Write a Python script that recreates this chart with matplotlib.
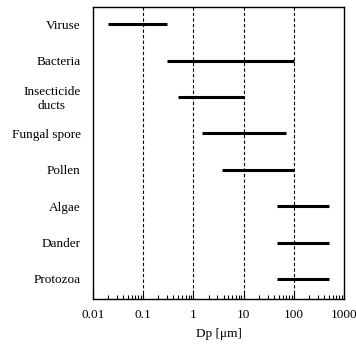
import matplotlib
matplotlib.use("Agg")
import matplotlib.pyplot as plt
from matplotlib.ticker import LogLocator, NullFormatter, FixedLocator

plt.rcParams['font.family'] = ['Liberation Serif', 'DejaVu Serif']

names = ["Viruse", "Bacteria", "Insecticide\nducts", "Fungal spore", "Pollen",
         "Algae", "Dander", "Protozoa"]
low = [0.02, 0.3, 0.5, 1.5, 3.7, 46, 46, 46]
high = [0.3, 100, 10, 70, 100, 500, 500, 500]
ticks = [0.01, 0.1, 1, 10, 100, 1000]
tick_labels = ["0.01", "0.1", "1", "10", "100", "1000"]

fig = plt.figure(figsize=(3.56, 3.45), dpi=100)
ax = fig.add_axes([93 / 356, 1 - 299 / 345, 251 / 356, 292 / 345])

for v in [0.1, 1, 10, 100]:
    ax.axvline(v, color='black', lw=0.8, ls=(0, (3, 2)), zorder=1)

ypos = list(range(len(names)))
ax.hlines(ypos, low, high, color='black', lw=2.2, zorder=2)

ax.set_xscale('log')
ax.set_xlim(0.01, 1000)
ax.set_ylim(len(names) - 0.45, -0.47)

ax.xaxis.set_major_locator(FixedLocator(ticks))
ax.set_xticklabels(tick_labels, fontsize=9.5)
ax.xaxis.set_minor_locator(LogLocator(base=10, subs=range(2, 10)))
ax.xaxis.set_minor_formatter(NullFormatter())
ax.tick_params(axis='x', which='major', direction='in', length=4, width=0.8, pad=7)
ax.tick_params(axis='x', which='minor', direction='in', length=3, width=0.8)

ax.set_yticks(ypos)
ax.set_yticklabels(names, fontsize=9.5, multialignment='center')
ax.tick_params(axis='y', length=0, pad=9)

for s in ax.spines.values():
    s.set_linewidth(1.0)

ax.set_xlabel("Dp [μm]", fontsize=9.5, labelpad=5)

fig.savefig("out.png", dpi=100)
